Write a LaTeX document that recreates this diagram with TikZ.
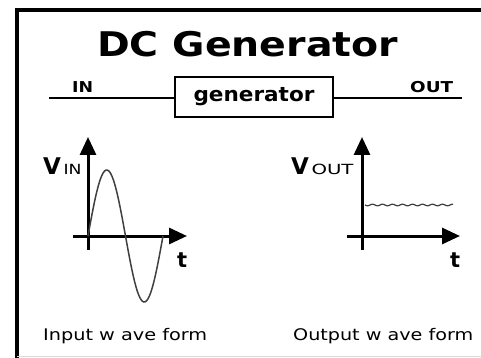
\documentclass[tikz,border=0pt]{standalone}
\usepackage{fontspec}
\setmainfont{DejaVu Sans}
\usetikzlibrary{arrows.meta}
\tikzset{
  axis/.style={line width=3pt,-{Triangle[length=18pt,width=16pt]}},
  wire/.style={line width=2pt},
  lbl/.style={inner sep=0pt,anchor=base west},
  wave/.style={line width=1.5pt,black!75}
}
\newcommand{\fitw}[2]{\resizebox{#1}{\height}{#2}}
\newcommand{\subtxt}[2]{\hspace{2.5pt}\fitw{#1}{\fontsize{14}{14}\selectfont\mdseries #2}}
\begin{document}
\begin{tikzpicture}[x=1pt,y=-1pt]
\useasboundingbox (0,0) rectangle (481,358);
\fill[white] (0,0) rectangle (481,358);
% frame
\draw[line width=4pt] (17,358) -- (17,10) -- (481,10);
\draw[line width=1pt,black!15] (17,356.5) -- (481,356.5);
% title
\node[lbl] (title) at (97,57) {\fitw{301pt}{\fontsize{34}{34}\selectfont\bfseries DC Generator}};
% block
\node[draw,line width=2pt,minimum width=158pt,minimum height=40pt,inner sep=0pt] (gen) at (254,97) {\fitw{121pt}{\fontsize{20}{20}\selectfont\bfseries generator}};
\coordinate (inL) at (49,98);
\coordinate (outR) at (462,98);
\draw[wire] (inL) -- (inL -| gen.west);
\draw[wire] (outR -| gen.east) -- (outR);
\node[lbl] (in) at (72,93) {\fitw{21pt}{\fontsize{15}{15}\selectfont\bfseries IN}};
\node[lbl] (out) at (410,93) {\fitw{43pt}{\fontsize{15}{15}\selectfont\bfseries OUT}};
% input axes
\coordinate (y1b) at (88,250);
\coordinate (y1t) at (88,137);
\coordinate (x1l) at (73,236);
\coordinate (x1r) at (187,236);
\draw[axis] (y1b) -- (y1t);
\draw[axis] (x1l) -- (x1r);
\draw[wave] plot[domain=0:75,samples=80] ({88+\x},{236-66*sin(\x*4.8)});
\node[lbl] (vin) at (43,175) {\fontsize{23}{23}\selectfont\bfseries V\subtxt{18pt}{IN}};
\node[lbl] (t1) at (177,267) {\fontsize{21}{21}\selectfont\bfseries t};
\node[lbl] (cap1) at (43,340) {\fitw{164pt}{\fontsize{16}{16}\selectfont Input w ave form}};
% output axes
\coordinate (y2b) at (362,250);
\coordinate (y2t) at (362,137);
\coordinate (x2l) at (347,236);
\coordinate (x2r) at (460,236);
\draw[axis] (y2b) -- (y2t);
\draw[axis] (x2l) -- (x2r);
\draw[wave,line width=1.2pt] plot[domain=0:88,samples=90] ({365+\x},{205+0.8*sin(\x*36)});
\node[lbl] (vout) at (291,175) {\fontsize{23}{23}\selectfont\bfseries V\subtxt{42pt}{OUT}};
\node[lbl] (t2) at (450,267) {\fontsize{21}{21}\selectfont\bfseries t};
\node[lbl] (cap2) at (293,340) {\fitw{180pt}{\fontsize{16}{16}\selectfont Output w ave form}};
\end{tikzpicture}
\end{document}
